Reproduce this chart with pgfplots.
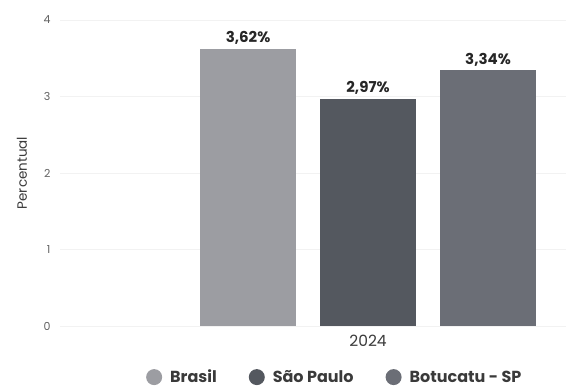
\documentclass[border=0pt]{standalone}
\usepackage{pgfplots}
\pgfplotsset{compat=1.18}
\usepackage{fontspec}
\setmainfont{Poppins}
\definecolor{cBR}{HTML}{9C9DA2}
\definecolor{cSP}{HTML}{54585F}
\definecolor{cBO}{HTML}{6B6E76}
\definecolor{txt}{HTML}{3A3A3A}
\begin{document}
\begin{tikzpicture}[x=1pt,y=1pt]
\path[use as bounding box] (-60,-63) rectangle (508,326);
\begin{axis}[
  at={(0,0)}, anchor=south west,
  scale only axis, width=506pt, height=306pt,
  xmin=-2.567, xmax=1.65, ymin=0, ymax=4,
  axis line style={draw=none},
  tick style={draw=none},
  ytick={0,1,2,3,4},
  xtick={0}, xticklabels={2024},
  ymajorgrids, grid style={color=black!5, line width=0.8pt},
  /pgf/number format/assume math mode=true,
  yticklabel style={font=\fontsize{11}{12}\selectfont, text=txt!80, xshift=-6pt},
  xticklabel style={font=\fontsize{15.5}{17}\selectfont, text=txt, yshift=-1pt},
  ylabel={Percentual},
  every axis y label/.style={at={(axis description cs:-0.075,0.5)}, anchor=center, rotate=90, font=\fontsize{13.5}{15}\selectfont, text=txt},
  ybar, bar width=96pt,
  nodes near coords={\pgfmathprintnumber[fixed, precision=2, fixed zerofill, use comma]{\pgfplotspointmeta}\%},
  every node near coord/.append style={font=\bfseries\fontsize{15}{17}\selectfont, text=black!85, yshift=1pt},
  legend columns=3,
  legend style={at={(0.543,-0.167)}, anchor=center, draw=none, fill=none,
    font=\bfseries\fontsize{16}{18}\selectfont, text=txt,
    /tikz/every odd column/.append style={column sep=6pt},
    /tikz/every even column/.append style={column sep=30pt}},
  legend image code/.code={\fill[#1, draw=none] (0pt,0pt) circle (8pt);},
]
\addplot[fill=cBR, draw=none, bar shift=0pt] coordinates {(-1,3.62)};
\addplot[fill=cSP, draw=none, bar shift=0pt] coordinates {(0,2.97)};
\addplot[fill=cBO, draw=none, bar shift=0pt] coordinates {(1,3.34)};
\legend{Brasil, São Paulo, Botucatu - SP}
\end{axis}
\end{tikzpicture}
\end{document}
